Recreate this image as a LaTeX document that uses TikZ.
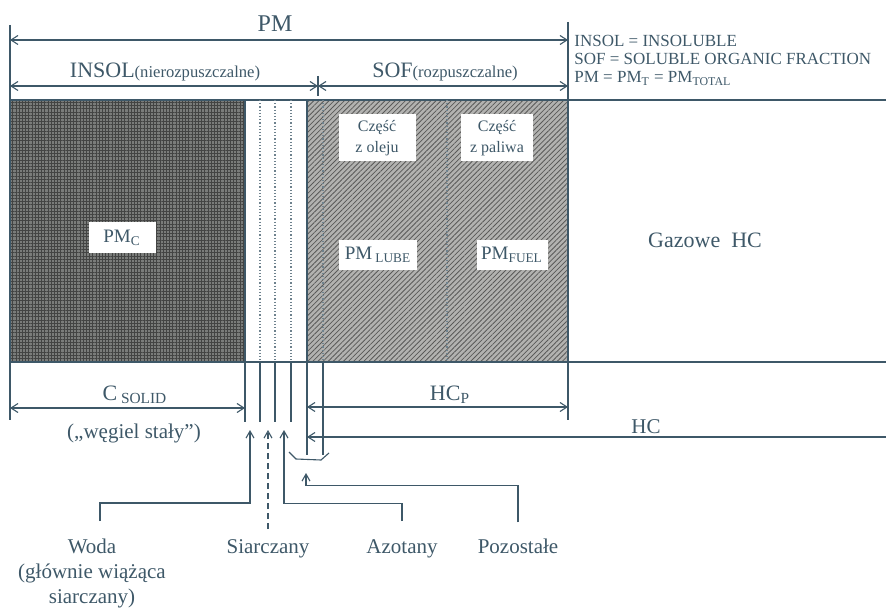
\documentclass[tikz,border=0pt]{standalone}
\usepackage{fontspec}
\setmainfont{Liberation Serif}
\usetikzlibrary{arrows.meta,positioning,calc,patterns.meta}
\definecolor{pmink}{RGB}{62,88,104}
\definecolor{pmdark}{RGB}{122,124,122}
\definecolor{pmmid}{RGB}{178,178,176}

\begin{document}
\begin{tikzpicture}[x=0.5pt,y=-0.5pt,
    pmline/.style={draw=pmink,line width=0.55pt},
    pmdim/.style={pmline,{Straight Barb[length=3.5pt,width=4.5pt]}-{Straight Barb[length=3.5pt,width=4.5pt]}},
    pmleft/.style={pmline,{Straight Barb[length=3.5pt,width=4.5pt]}-},
    pmfeed/.style={pmline,-{Straight Barb[length=3.5pt,width=4pt]}},
    pmdots/.style={draw=pmink!75,line width=0.6pt,densely dotted},
    pmtag/.style={fill=white,text=pmink,align=center,inner sep=0pt},
    pmtext/.style={text=pmink,inner sep=0pt},
    pmlow/.style={pmtext,align=center,font=\fontsize{10.5}{12.6}\selectfont}
]
\useasboundingbox (0,0) rectangle (886,608);
% shaded fractions
\fill[pmdark] (10,100) rectangle (245,362);
\fill[pattern={Hatch[distance=1.6pt,line width=0.35pt]},pattern color=pmdark!55!black]
    (10,100) rectangle (245,362);
\fill[pmmid] (307,100) rectangle (568,362);
\fill[pattern={Lines[angle=45,distance=1.8pt,line width=0.4pt]},pattern color=pmmid!50!black]
    (307,100) rectangle (568,362);
% frame and extension lines
\draw[pmline] (10,100) -- (886,100);
\draw[pmline] (10,362) -- (886,362);
\draw[pmline] (10,25) -- (10,420);
\draw[pmline] (245,100) -- (245,422);
\draw[pmline] (307,100) -- (307,455);
\draw[pmline] (568,22) -- (568,420);
\draw[pmline] (318,76) -- (318,96);
\draw[pmdots] (260,100) -- (260,362);
\draw[pmdots] (275,100) -- (275,362);
\draw[pmdots] (291,100) -- (291,362);
\draw[pmdots] (323,100) -- (323,362);
\draw[pmdots] (447,100) -- (447,362);
\draw[pmline] (260,362) -- (260,422);
\draw[pmline] (275,362) -- (275,422);
\draw[pmline] (291,362) -- (291,422);
\draw[pmline] (323,362) -- (323,455);
\draw[pmline] (289,452) -- (296,459) -- (321,460) -- (329,453);
% dimension arrows
\coordinate (pmL) at (10,40);
\coordinate (pmR) at (568,40);
\coordinate (insolL) at (10,86);
\coordinate (split) at (318,86);
\coordinate (sofR) at (568,86);
\coordinate (csolidL) at (10,408);
\coordinate (csolidR) at (245,408);
\coordinate (hcpL) at (307,407);
\coordinate (hcpR) at (568,407);
\coordinate (hcL) at (307,437);
\coordinate (hcR) at (886,437);
\draw[pmdim] (pmL) -- (pmR);
\draw[pmdim] (insolL) -- (split);
\draw[pmdim] (split) -- (sofR);
\draw[pmdim] (csolidL) -- (csolidR);
\draw[pmdim] (hcpL) -- (hcpR);
\draw[pmleft] (hcL) -- (hcR);
% labels
\node[pmtext,anchor=base,font=\fontsize{12}{14}\selectfont] (pmname) at (275,32) {PM};
\node[pmtext,anchor=base] (insolname) at (165,78)
    {{\fontsize{11}{13}\selectfont INSOL}{\fontsize{8.3}{10}\selectfont(nierozpuszczalne)}};
\node[pmtext,anchor=base] (sofname) at (445,78)
    {{\fontsize{11}{13}\selectfont SOF}{\fontsize{8.3}{10}\selectfont(rozpuszczalne)}};
\node[pmtext,anchor=base west,font=\fontsize{8.5}{10}\selectfont] (legendinsol) at (574,47)
    {INSOL = INSOLUBLE};
\node[pmtext,anchor=base west,font=\fontsize{8.5}{10}\selectfont] (legendsof) at (574,65)
    {SOF = SOLUBLE ORGANIC FRACTION};
\node[pmtext,anchor=base west,font=\fontsize{8.5}{10}\selectfont] (legendpm) at (574,83)
    {PM = PM\textsubscript{T} = PM\textsubscript{TOTAL}};
\node[pmtag,minimum width=33.5pt,minimum height=15.5pt,font=\fontsize{9.5}{11}\selectfont] (pmc) at (122,238)
    {PM\textsubscript{C}};
\node[pmtag,minimum width=38.5pt,minimum height=23.5pt,font=\fontsize{8}{10.5}\selectfont] (oiltag) at (377,138)
    {Część\\z oleju};
\node[pmtag,minimum width=36pt,minimum height=23.5pt,font=\fontsize{8}{10.5}\selectfont] (fueltag) at (497,138)
    {Część\\z paliwa};
\node[pmtag,minimum width=39pt,minimum height=15pt,font=\fontsize{9.5}{11}\selectfont] (lubepm) at (378,255)
    {PM\,\textsubscript{LUBE}};
\node[pmtag,minimum width=35.5pt,minimum height=15pt,font=\fontsize{9.5}{11}\selectfont] (fuelpm) at (512,255)
    {PM\textsubscript{FUEL}};
\node[pmtext,font=\fontsize{11}{13}\selectfont] (gas) at (705,240) {Gazowe\ \ HC};
\node[pmtext,anchor=base,font=\fontsize{11}{13}\selectfont] (csolid) at (135,400) {C\,\textsubscript{SOLID}};
\node[pmtext,anchor=base,font=\fontsize{10.5}{12}\selectfont] (carbon) at (134,438) {(„węgiel stały”)};
\node[pmtext,anchor=base,font=\fontsize{11}{13}\selectfont] (hcp) at (450,400) {HC\textsubscript{P}};
\node[pmtext,anchor=base,font=\fontsize{10.5}{12}\selectfont] (hc) at (646,433) {HC};
% sources below the strip
\node[pmlow,anchor=north,outer ysep=9pt] (woda) at (92,521) {Woda\\(głównie wiążąca\\siarczany)};
\node[pmlow,anchor=base,outer ysep=5pt] (siarczany) at (268,553) {Siarczany};
\node[pmlow,anchor=base,outer ysep=9pt] (azotany) at (402,553) {Azotany};
\node[pmlow,anchor=base,outer ysep=8pt] (pozostale) at (518,553) {Pozostałe};
\coordinate (wodatip) at (250,430);
\coordinate (siartip) at (268,430);
\coordinate (azotip) at (284,430);
\coordinate (resttip) at (306,473);
\draw[pmfeed] ([xshift=4pt]woda.north) -- ++(0,-18) -| (wodatip);
\draw[pmfeed,densely dashed] (siarczany.north) -- (siartip);
\draw[pmfeed] (azotany.north) -- ++(0,-18) -| (azotip);
\draw[pmfeed] (pozostale.north) -- ++(0,-37) -| (resttip);
\end{tikzpicture}
\end{document}
